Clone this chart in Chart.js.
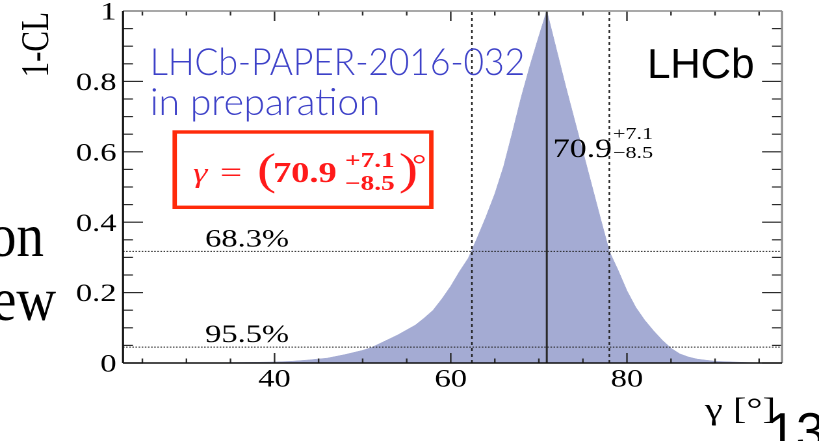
<!DOCTYPE html>
<html>
<head>
<meta charset="utf-8">
<script src="https://cdn.jsdelivr.net/npm/chart.js@4/dist/chart.umd.min.js"></script>
<style>
  html, body { margin: 0; padding: 0; background: #fff; overflow: hidden; width: 819px; height: 441px; }
  /* the plot is laid out narrow and widened horizontally */
  #stage { position: absolute; left: 0; top: 0; width: 630px; height: 441px;
           transform: scaleX(1.3); transform-origin: 0 0; }
</style>
</head>
<body>
<div id="stage"><canvas id="scan"></canvas></div>
<script>
// gamma scan: 1-CL versus gamma [deg]
const gammaDeg   = [22.8, 30, 35, 38, 40, 42, 44, 46, 48, 50, 51, 52, 53, 54, 55, 56, 57, 58, 59, 60,
                    61, 62, 63, 64, 65, 66, 67, 68, 69, 70, 70.9, 72, 73, 74, 75, 76, 77, 78, 79, 80,
                    81, 82, 83, 84, 85, 86, 87, 88, 89, 90, 92, 94, 96, 97.6];
const oneMinusCL = [0, 0, 0.001, 0.002, 0.003, 0.005, 0.009, 0.014, 0.024, 0.036, 0.044, 0.056, 0.068, 0.080, 0.094, 0.108, 0.128, 0.150, 0.182, 0.218,
                    0.260, 0.298, 0.355, 0.415, 0.480, 0.558, 0.655, 0.755, 0.845, 0.928, 1.0, 0.890, 0.790, 0.695, 0.600, 0.505, 0.410, 0.317, 0.263, 0.205,
                    0.158, 0.122, 0.092, 0.065, 0.042, 0.026, 0.017, 0.011, 0.008, 0.005, 0.003, 0.001, 0, 0];

// result and confidence levels
const gammaCentral = 70.9;
const gammaErrPlus = 7.1;
const gammaErrMinus = 8.5;
const clLevels = [0.683, 0.955];
const clLabels = ['68.3%', '95.5%'];

// axes
const xRange = [22.8, 97.6];
const yRange = [0, 1];
const xTicksMajor = [40, 60, 80];
const xTicksMinor = [25, 30, 35, 45, 50, 55, 65, 70, 75, 85, 90, 95];
const yTicksMajor = [0, 0.2, 0.4, 0.6, 0.8, 1];
const yTicksMinor = [0.05, 0.1, 0.15, 0.25, 0.3, 0.35, 0.45, 0.5, 0.55, 0.65, 0.7, 0.75, 0.85, 0.9, 0.95];

const S = 1.3;              // horizontal widening of #stage
const rx = v => v / S;      // page x -> canvas x
const fillColour = 'rgb(164,171,211)';
const serif = '"Liberation Serif", "Times New Roman", serif';
const sans = '"Liberation Sans", Arial, sans-serif';

function vLine(xv, dash, width, colour) {
  return { data: [{x: xv, y: yRange[0]}, {x: xv, y: yRange[1]}], borderColor: colour, borderWidth: width,
           borderDash: dash, pointRadius: 0, fill: false, order: 0 };
}
function hLine(yv, dash, width, colour) {
  return { data: [{x: xRange[0], y: yv}, {x: xRange[1], y: yv}], borderColor: colour, borderWidth: width,
           borderDash: dash, pointRadius: 0, fill: false, order: 0 };
}

function fitText(ctx, str, x, y, width) {
  const w = ctx.measureText(str).width;
  ctx.save();
  ctx.translate(x, y);
  ctx.scale(width / w, 1);
  ctx.fillText(str, 0, 0);
  ctx.restore();
}

const decor = {
  id: 'decor',
  afterDatasetsDraw(chart) {
    const {ctx, chartArea: a, scales: {x, y}} = chart;
    ctx.save();
    const seg = (x1, y1, x2, y2) => { ctx.beginPath(); ctx.moveTo(x1, y1); ctx.lineTo(x2, y2); ctx.stroke(); };
    ctx.strokeStyle = '#2b2b2b';
    ctx.lineWidth = 1.2;
    // ticks pointing into the frame on all four sides
    const yTick = (v, len) => { const p = y.getPixelForValue(v); seg(a.left, p, a.left + len, p); seg(a.right, p, a.right - len, p); };
    const xTick = (v, len) => { const p = x.getPixelForValue(v); seg(p, a.bottom, p, a.bottom - len); seg(p, a.top, p, a.top + len); };
    yTicksMajor.forEach(v => yTick(v, rx(20)));
    yTicksMinor.forEach(v => yTick(v, rx(10)));
    xTicksMajor.forEach(v => xTick(v, 10));
    xTicksMinor.forEach(v => xTick(v, 4.5));
    // frame
    ctx.lineWidth = 1.6;
    ctx.strokeStyle = '#8c8c8c';
    seg(a.left, a.top, a.right, a.top);
    seg(a.right, a.top, a.right, a.bottom);
    ctx.strokeStyle = '#111';
    seg(a.left, a.top, a.left, a.bottom);
    seg(a.left, a.bottom, a.right, a.bottom);
    ctx.restore();
  },
  afterDraw(chart) {
    const {ctx, scales: {x, y}} = chart;
    ctx.save();
    ctx.textBaseline = 'alphabetic';
    ctx.textAlign = 'left';
    ctx.fillStyle = '#000';

    // confidence level labels
    ctx.font = '25px ' + serif;
    clLevels.forEach((cl, i) => ctx.fillText(clLabels[i], rx(205), y.getPixelForValue(1 - cl) - 5));

    // central value next to its line
    const px = x.getPixelForValue(gammaCentral) + rx(6);
    ctx.font = '26px ' + serif;
    const cTxt = gammaCentral.toFixed(1);
    ctx.fillText(cTxt, px, 157);
    const sx = px + ctx.measureText(cTxt).width + rx(1);
    ctx.font = '17px ' + serif;
    ctx.fillText('+' + gammaErrPlus.toFixed(1), sx, 139);
    ctx.fillText('\u2212' + gammaErrMinus.toFixed(1), sx, 158);

    // axis titles
    ctx.font = '31px ' + serif;
    ctx.fillText('\u03b3 [\u00b0]', rx(705), 419);
    ctx.save();
    ctx.translate(rx(48), 12);
    ctx.rotate(-Math.PI / 2);
    ctx.textAlign = 'right';
    ctx.font = '31px ' + serif;
    ctx.fillText('1-CL', 0, 0);
    ctx.restore();

    // boxed result
    ctx.strokeStyle = '#ff2a0a';
    ctx.lineWidth = 3.4;
    ctx.strokeRect(rx(174.7), 132, rx(431.3 - 174.7), 207.3 - 132);
    ctx.fillStyle = '#ff1a1a';
    ctx.font = 'italic 28px ' + serif;
    ctx.fillText('\u03b3', rx(193), 182);
    ctx.font = '30px ' + serif;
    ctx.fillText('=', rx(220), 182);
    ctx.font = '44px ' + serif;
    ctx.fillText('(', rx(257), 184);
    ctx.font = 'bold 28px ' + serif;
    ctx.fillText(gammaCentral.toFixed(1), rx(273), 182);
    ctx.font = 'bold 21px ' + serif;
    ctx.fillText('+' + gammaErrPlus.toFixed(1), rx(345), 167);
    ctx.fillText('\u2212' + gammaErrMinus.toFixed(1), rx(345), 190);
    ctx.font = '44px ' + serif;
    ctx.fillText(')', rx(399), 184);
    ctx.font = '28px ' + serif;
    ctx.fillText('\u00b0', rx(412), 174);

    // labels set on top of the widened plot at their natural width
    ctx.scale(1 / S, 1);
    ctx.fillStyle = '#3d41c8';
    ctx.font = '300 37px Lato, "Open Sans", sans-serif';
    fitText(ctx, 'LHCb-PAPER-2016-032', 150, 75, 375);
    fitText(ctx, 'in preparation', 150, 115, 230);
    ctx.fillStyle = '#000';
    ctx.font = '42px ' + sans;
    ctx.fillText('LHCb', 647, 78);
    ctx.font = '61px ' + serif;
    ctx.save(); ctx.translate(-11, 256); ctx.scale(0.9, 1); ctx.fillText('on', 0, 0); ctx.restore();
    ctx.save(); ctx.translate(-8, 320); ctx.scale(0.9, 1); ctx.fillText('ew', 0, 0); ctx.restore();
    ctx.font = '52px ' + sans;
    ctx.fillText('13', 767, 449);
    ctx.restore();
  }
};

new Chart(document.getElementById('scan'), {
  type: 'line',
  data: {
    datasets: [
      vLine(gammaCentral, [], 1.5, '#2a2a2a'),
      vLine(gammaCentral - gammaErrMinus, [3, 3], 1.2, '#222'),
      vLine(gammaCentral + gammaErrPlus, [3, 3], 1.2, '#222'),
      ...clLevels.map(cl => hLine(1 - cl, [1.2, 1.2], 1, '#222')),
      { data: gammaDeg.map((g, i) => ({x: g, y: oneMinusCL[i]})), fill: 'origin',
        backgroundColor: fillColour, borderColor: fillColour, borderWidth: 0.5,
        pointRadius: 0, tension: 0, order: 1 }
    ]
  },
  options: {
    responsive: true,
    maintainAspectRatio: false,
    animation: false,
    devicePixelRatio: 2,
    events: [],
    layout: { padding: { top: 11, right: 630 - rx(782), left: 0, bottom: 0 } },
    plugins: { legend: { display: false }, tooltip: { enabled: false } },
    scales: {
      x: {
        type: 'linear', min: xRange[0], max: xRange[1],
        grid: { display: false, drawTicks: false }, border: { display: false },
        ticks: { font: { family: serif, size: 25 }, color: '#000', padding: 2, maxRotation: 0, autoSkip: false },
        afterBuildTicks: s => { s.ticks = xTicksMajor.map(v => ({value: v})); },
        afterFit: s => { s.height = 78; s.paddingLeft = 0; s.paddingRight = 0; }
      },
      y: {
        type: 'linear', min: yRange[0], max: yRange[1],
        grid: { display: false, drawTicks: false }, border: { display: false },
        ticks: { font: { family: serif, size: 25 }, color: '#000', padding: 5, labelOffset: 2,
                 callback: v => (v === 0 || v === 1) ? String(v) : v.toFixed(1) },
        afterBuildTicks: s => { s.ticks = yTicksMajor.map(v => ({value: v})); },
        afterFit: s => { s.width = rx(123); s.paddingTop = 0; s.paddingBottom = 0; }
      }
    }
  },
  plugins: [decor]
});
</script>
</body>
</html>
